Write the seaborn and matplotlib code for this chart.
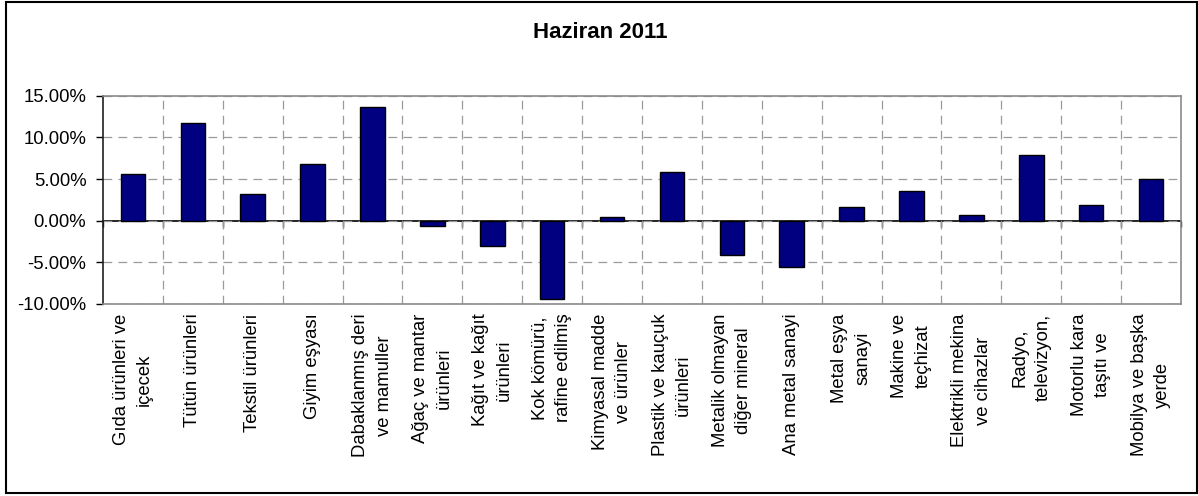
import matplotlib
matplotlib.use("Agg")
import matplotlib.pyplot as plt
import matplotlib.patches as mpatches
from matplotlib.ticker import FixedLocator
import seaborn as sns
import pandas as pd

categories = [
    "Gıda ürünleri ve\niçecek",
    "Tütün ürünleri",
    "Tekstil ürünleri",
    "Giyim eşyası",
    "Dabaklanmış deri\nve mamuller",
    "Ağaç ve mantar\nürünleri",
    "Kağıt ve kağıt\nürünleri",
    "Kok kömürü,\nrafine edilmiş",
    "Kimyasal madde\nve ürünler",
    "Plastik ve kauçuk\nürünleri",
    "Metalik olmayan\ndiğer mineral",
    "Ana metal sanayi",
    "Metal eşya\nsanayi",
    "Makine ve\nteçhizat",
    "Elektrikli mekina\nve cihazlar",
    "Radyo,\ntelevizyon,",
    "Motorlu kara\ntaşıtı ve",
    "Mobilya ve başka\nyerde",
]
values = [5.57, 11.76, 3.17, 6.84, 13.60, -0.64, -3.04, -9.44, 0.48,
          5.80, -4.12, -5.56, 1.68, 3.56, 0.68, 7.85, 1.92, 5.00]
yticks = [-10, -5, 0, 5, 10, 15]
title = "Haziran 2011"

sns.set_style("white")
plt.rcParams['font.family'] = ['Liberation Sans', 'DejaVu Sans']
plt.rcParams['text.color'] = 'black'
plt.rcParams['xtick.color'] = 'black'
plt.rcParams['ytick.color'] = 'black'
plt.rcParams['axes.labelcolor'] = 'black'

df = pd.DataFrame({"cat": categories, "val": values})

fig = plt.figure(figsize=(11.98, 4.96), dpi=100)
ax = fig.add_axes([103/1198, 1-304/496, (1181-103)/1198, (304-95.7)/496])

sns.barplot(data=df, x="cat", y="val", color="#000080", edgecolor="black",
            linewidth=1.0, width=0.41, saturation=1, ax=ax, zorder=3)

n = len(categories)
ax.set_xlim(-0.5, n - 0.5)
ax.set_ylim(yticks[0], yticks[-1])
ax.set_yticks(yticks)
ax.set_yticklabels([f"{v:.2f}%" for v in yticks], fontsize=13.3)
ax.set_xlabel("")
ax.set_ylabel("")

# grid
ax.xaxis.set_minor_locator(FixedLocator([i + 0.5 for i in range(n - 1)]))
ax.grid(True, which="minor", axis="x", color="#9a9a9a", linestyle=(0, (7, 5)), linewidth=0.9, zorder=0)
ax.grid(True, which="major", axis="y", color="#9a9a9a", linestyle=(0, (7, 5)), linewidth=0.9, zorder=0)
ax.grid(False, which="major", axis="x")
ax.tick_params(axis="x", which="both", length=0, pad=7)
ax.tick_params(axis="y", which="major", length=5, width=1, direction="out", pad=7, color="black", left=True)

ax.set_xticks(range(n))
ax.set_xticklabels(categories, rotation=90, ha="center", va="top",
                   fontsize=13.3, linespacing=1.5, multialignment="center")

for s in ["top", "right", "bottom"]:
    ax.spines[s].set_color("#8a8a8a")
    ax.spines[s].set_linewidth(1.2)
ax.spines["left"].set_color("#202020")
ax.spines["left"].set_linewidth(1.2)

# zero axis with tick marks at category boundaries
zero_frac = (0 - yticks[0]) / (yticks[-1] - yticks[0])
sec = ax.secondary_xaxis(zero_frac)
sec.set_xticks([i + 0.5 for i in range(-1, n)])
sec.set_xticklabels([])
sec.tick_params(length=4, width=1, direction="out", color="black")
sec.spines["bottom"].set_color("black")
sec.spines["bottom"].set_linewidth(1.2)
sec.spines["bottom"].set_zorder(4)

fig.text(600/1198, 1-32/496, title, ha="center", va="center",
         fontsize=16, fontweight="bold")

frame = mpatches.Rectangle((5.5/1198, 3/496), (1196.5-5.5)/1198, (494-3)/496,
                           transform=fig.transFigure, fill=False,
                           edgecolor="black", linewidth=1.5)
fig.patches.append(frame)

fig.savefig("out.png", dpi=100)
